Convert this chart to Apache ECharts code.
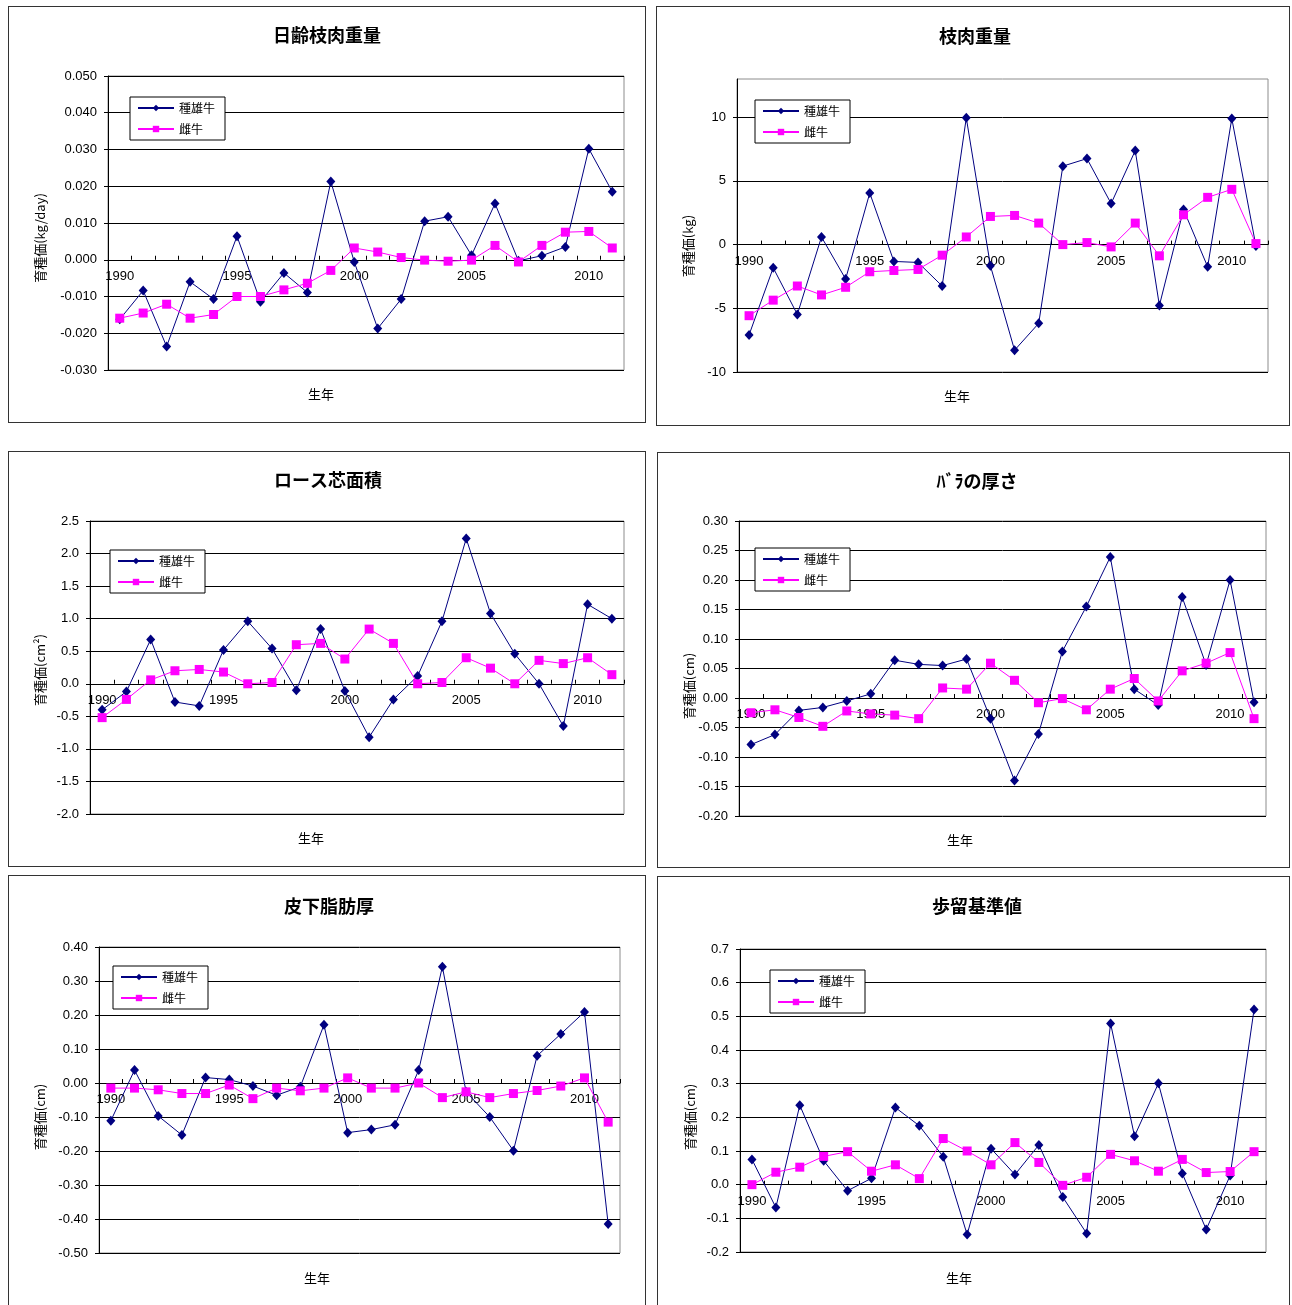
<!DOCTYPE html>
<html>
<head>
<meta charset="utf-8">
<script src="https://cdn.jsdelivr.net/npm/echarts@6/dist/echarts.min.js"></script>
<style>
body { margin: 0; background: #fff; width: 1292px; height: 1305px; overflow: hidden; position: relative; }
.panel { position: absolute; border: 1px solid #333; box-sizing: border-box; background: #fff; }
.panel .c { position: absolute; left: 0; top: 0; }
</style>
</head>
<body>
<div id="p1" class="panel"><div class="c"></div></div>
<div id="p2" class="panel"><div class="c"></div></div>
<div id="p3" class="panel"><div class="c"></div></div>
<div id="p4" class="panel"><div class="c"></div></div>
<div id="p5" class="panel"><div class="c"></div></div>
<div id="p6" class="panel"><div class="c"></div></div>
<script>
// 生年
const years = ['1990','1991','1992','1993','1994','1995','1996','1997','1998','1999','2000',
               '2001','2002','2003','2004','2005','2006','2007','2008','2009','2010','2011'];
const seriesNames = ['種雄牛', '雌牛'];

// 日齢枝肉重量
const sire1 = [-0.0162, -0.0084, -0.0236, -0.0060, -0.0107, 0.0064, -0.0114, -0.0036, -0.0089, 0.0213, -0.0006,
               -0.0187, -0.0107, 0.0105, 0.0117, 0.0012, 0.0153, -0.0003, 0.0011, 0.0035, 0.0302, 0.0185];
const dam1  = [-0.0159, -0.0145, -0.0121, -0.0159, -0.0149, -0.0100, -0.0100, -0.0082, -0.0064, -0.0029, 0.0032,
               0.0021, 0.0006, -0.0001, -0.0004, -0.0001, 0.0039, -0.0006, 0.0039, 0.0075, 0.0077, 0.0032];
// 枝肉重量
const sire2 = [-7.09, -1.82, -5.48, 0.60, -2.70, 4.05, -1.32, -1.40, -3.25, 9.95, -1.66,
               -8.29, -6.18, 6.16, 6.75, 3.22, 7.38, -4.78, 2.75, -1.74, 9.90, -0.10];
const dam2  = [-5.58, -4.36, -3.25, -3.95, -3.35, -2.13, -2.03, -1.95, -0.83, 0.60, 2.21,
               2.29, 1.69, 0.00, 0.16, -0.18, 1.69, -0.88, 2.34, 3.71, 4.34, 0.08];
// ロース芯面積
const sire3 = [-0.40, -0.12, 0.68, -0.28, -0.34, 0.52, 0.96, 0.54, -0.10, 0.84, -0.11,
               -0.82, -0.24, 0.12, 0.96, 2.23, 1.08, 0.46, 0.00, -0.65, 1.22, 1.00];
const dam3  = [-0.52, -0.24, 0.06, 0.20, 0.22, 0.18, 0.00, 0.02, 0.60, 0.62, 0.38,
               0.84, 0.62, 0.00, 0.02, 0.40, 0.24, 0.00, 0.36, 0.31, 0.40, 0.14];
// バラの厚さ
const sire4 = [-0.079, -0.062, -0.021, -0.016, -0.005, 0.007, 0.064, 0.057, 0.055, 0.066, -0.035,
               -0.140, -0.061, 0.079, 0.155, 0.239, 0.015, -0.012, 0.171, 0.056, 0.200, -0.007];
const dam4  = [-0.025, -0.020, -0.033, -0.048, -0.022, -0.027, -0.029, -0.035, 0.017, 0.015, 0.059,
               0.030, -0.008, -0.001, -0.020, 0.015, 0.033, -0.005, 0.046, 0.059, 0.077, -0.035];
// 皮下脂肪厚
const sire5 = [-0.111, 0.038, -0.097, -0.153, 0.016, 0.010, -0.009, -0.036, -0.011, 0.171, -0.146,
               -0.137, -0.123, 0.038, 0.342, -0.026, -0.100, -0.199, 0.080, 0.144, 0.209, -0.415];
const dam5  = [-0.015, -0.015, -0.020, -0.031, -0.031, -0.006, -0.046, -0.015, -0.023, -0.015, 0.015,
               -0.015, -0.015, 0.000, -0.043, -0.026, -0.043, -0.031, -0.022, -0.009, 0.015, -0.115];
// 歩留基準値
const sire6 = [0.075, -0.068, 0.236, 0.071, -0.018, 0.019, 0.229, 0.175, 0.083, -0.148, 0.107,
               0.030, 0.118, -0.037, -0.145, 0.479, 0.144, 0.301, 0.033, -0.133, 0.027, 0.520];
const dam6  = [0.000, 0.037, 0.052, 0.084, 0.098, 0.040, 0.059, 0.018, 0.137, 0.100, 0.059,
               0.125, 0.066, -0.002, 0.022, 0.090, 0.071, 0.040, 0.075, 0.036, 0.039, 0.098];

const FONT = "'Liberation Sans', 'Noto Sans CJK JP', sans-serif";
const CJK = "'Noto Sans CJK JP', sans-serif";

// panel: page box, grid: page box of plot area, legend: page top-left
const charts = [
  { id: 'p1', title: '日齢枝肉重量', yName: '育種価(kg/day)', sire: sire1, dam: dam1,
    min: -0.03, max: 0.05, interval: 0.01, dec: 3,
    panel: [8, 6, 638, 417], grid: [108, 76, 624, 370], legend: [130, 97],
    titleXY: [327, 35], yNameXY: [40, 238], xNameXY: [321, 394] },
  { id: 'p2', title: '枝肉重量', yName: '育種価(kg)', sire: sire2, dam: dam2,
    min: -10, max: 13, interval: 5, dec: 0,
    panel: [656, 6, 634, 420], grid: [737, 79, 1268, 372], legend: [755, 100],
    titleXY: [975, 36], yNameXY: [688, 246], xNameXY: [957, 396] },
  { id: 'p3', title: 'ロース芯面積', yName: '育種価(cm²)', sire: sire3, dam: dam3,
    min: -2.0, max: 2.5, interval: 0.5, dec: 1,
    panel: [8, 451, 638, 416], grid: [90, 521, 624, 814], legend: [110, 550],
    titleXY: [328, 480], yNameXY: [40, 670], xNameXY: [311, 838] },
  { id: 'p4', title: 'ﾊﾞﾗの厚さ', yName: '育種価(cm)', sire: sire4, dam: dam4,
    min: -0.2, max: 0.3, interval: 0.05, dec: 2,
    panel: [657, 452, 633, 416], grid: [739, 521, 1266, 816], legend: [755, 548],
    titleXY: [977, 481], yNameXY: [689, 686], xNameXY: [960, 840] },
  { id: 'p5', title: '皮下脂肪厚', yName: '育種価(cm)', sire: sire5, dam: dam5,
    min: -0.5, max: 0.4, interval: 0.1, dec: 2,
    panel: [8, 875, 638, 440], grid: [99, 947, 620, 1253], legend: [113, 966],
    titleXY: [329, 906], yNameXY: [40, 1117], xNameXY: [317, 1278] },
  { id: 'p6', title: '歩留基準値', yName: '育種価(cm)', sire: sire6, dam: dam6,
    min: -0.2, max: 0.7, interval: 0.1, dec: 1,
    panel: [657, 876, 633, 440], grid: [740, 949, 1266, 1252], legend: [770, 970],
    titleXY: [977, 906], yNameXY: [690, 1117], xNameXY: [959, 1278] }
];

function makeChart(cfg) {
  const [pl, pt, pw, ph] = cfg.panel;
  const box = document.getElementById(cfg.id);
  box.style.left = pl + 'px';
  box.style.top = pt + 'px';
  box.style.width = pw + 'px';
  box.style.height = ph + 'px';
  const el = box.querySelector('.c');
  el.style.width = (pw - 2) + 'px';
  el.style.height = (ph - 2) + 'px';
  const ox = pl + 1, oy = pt + 1;
  const [gx1, gy1, gx2, gy2] = cfg.grid;
  // x axis sits on the zero line: move it up from the grid bottom
  const zeroOffset = -(0 - cfg.min) / (cfg.max - cfg.min) * (gy2 - gy1);

  const chart = echarts.init(el, null, { renderer: 'canvas' });
  chart.setOption({
    animation: false,
    textStyle: { fontFamily: FONT },
    grid: {
      left: gx1 - ox, top: gy1 - oy, width: gx2 - gx1, height: gy2 - gy1,
      show: true, borderColor: '#8c8c8c', borderWidth: 1, backgroundColor: 'transparent'
    },
    legend: {
      orient: 'vertical',
      left: cfg.legend[0] - ox, top: cfg.legend[1] - oy,
      backgroundColor: '#fff', borderColor: '#000', borderWidth: 1, borderRadius: 0,
      padding: [5, 10, 5, 7], itemGap: 9, itemWidth: 36, itemHeight: 8,
      textStyle: { fontFamily: CJK, fontSize: 12, color: '#000' },
      data: seriesNames
    },
    graphic: [
      { type: 'text', x: cfg.titleXY[0] - ox, y: cfg.titleXY[1] - oy,
        style: { text: cfg.title, fontFamily: CJK, fontSize: 18, fontWeight: 'bold',
                 fill: '#000', align: 'center', verticalAlign: 'middle' } },
      { type: 'text', x: cfg.xNameXY[0] - ox, y: cfg.xNameXY[1] - oy,
        style: { text: '生年', fontFamily: CJK, fontSize: 13,
                 fill: '#000', align: 'center', verticalAlign: 'middle' } },
      { type: 'text', x: cfg.yNameXY[0] - ox, y: cfg.yNameXY[1] - oy, rotation: Math.PI / 2,
        style: { text: cfg.yName, fontFamily: CJK, fontSize: 13,
                 fill: '#000', align: 'center', verticalAlign: 'middle' } }
    ],
    xAxis: {
      type: 'category',
      data: years,
      boundaryGap: true,
      offset: zeroOffset,
      axisLine: { onZero: false, lineStyle: { color: '#000', width: 1 } },
      axisTick: { show: true, inside: true, length: 4, interval: 0, lineStyle: { color: '#000' } },
      axisLabel: { interval: 4, fontSize: 13, color: '#000', margin: 10, fontFamily: FONT },
      splitLine: { show: false }
    },
    yAxis: {
      type: 'value',
      min: cfg.min, max: cfg.max, interval: cfg.interval,
      axisLine: { show: true, lineStyle: { color: '#000', width: 1 } },
      axisTick: { show: true, length: 4, lineStyle: { color: '#000' } },
      axisLabel: {
        fontSize: 13, color: '#000', margin: 11, fontFamily: FONT, showMaxLabel: cfg.id !== 'p2',
        formatter: v => Number(v).toFixed(cfg.dec)
      },
      splitLine: { show: true, showMaxLine: cfg.id !== 'p2', lineStyle: { color: '#000', width: 1 } }
    },
    series: [
      { name: seriesNames[0], type: 'line', data: cfg.sire,
        symbol: 'diamond', symbolSize: [9, 10],
        itemStyle: { color: '#000080' }, lineStyle: { color: '#000080', width: 1 } },
      { name: seriesNames[1], type: 'line', data: cfg.dam,
        symbol: 'rect', symbolSize: 9,
        itemStyle: { color: '#ff00ff' }, lineStyle: { color: '#ff00ff', width: 1 } }
    ]
  });
  return chart;
}

charts.forEach(makeChart);
</script>
</body>
</html>
